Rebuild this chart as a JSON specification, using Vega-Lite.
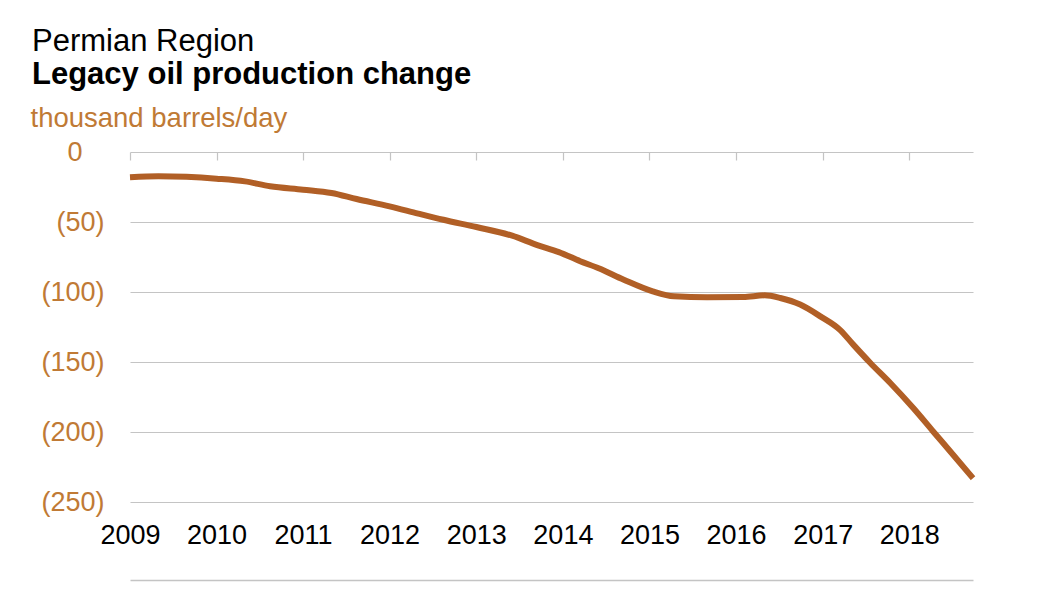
{
  "$schema": "https://vega.github.io/schema/vega-lite/v6.json",
  "autosize": {"type": "none"},
  "padding": {"left": 130, "top": 152, "right": 77, "bottom": 88},
  "width": 843,
  "height": 350,
  "background": "white",
  "config": {
    "view": {"stroke": null},
    "font": "Liberation Sans"
  },
  "title": {
    "text": "Permian Region",
    "subtitle": "Legacy oil production change",
    "anchor": "start",
    "frame": "group",
    "dx": -98,
    "offset": 13,
    "font": "Liberation Sans",
    "fontSize": 31,
    "fontWeight": "normal",
    "color": "#000000",
    "subtitleFont": "Liberation Sans",
    "subtitleFontSize": 31,
    "subtitleFontWeight": "bold",
    "subtitleColor": "#000000",
    "subtitlePadding": 2
  },
  "data": {
    "values": [
      {"date": "2009-01-01", "change": -18.1},
      {"date": "2009-05-01", "change": -17.4},
      {"date": "2010-01-01", "change": -19.1},
      {"date": "2010-05-01", "change": -21.0},
      {"date": "2010-08-15", "change": -24.5},
      {"date": "2011-01-01", "change": -26.9},
      {"date": "2011-05-01", "change": -29.3},
      {"date": "2011-08-15", "change": -33.6},
      {"date": "2012-01-01", "change": -38.8},
      {"date": "2012-05-01", "change": -44.0},
      {"date": "2012-08-15", "change": -48.4},
      {"date": "2013-01-01", "change": -53.6},
      {"date": "2013-06-01", "change": -59.8},
      {"date": "2013-09-15", "change": -66.5},
      {"date": "2013-12-15", "change": -71.5},
      {"date": "2014-03-15", "change": -78.0},
      {"date": "2014-06-01", "change": -83.0},
      {"date": "2014-09-15", "change": -91.2},
      {"date": "2015-01-15", "change": -99.5},
      {"date": "2015-04-15", "change": -103.1},
      {"date": "2015-09-01", "change": -103.8},
      {"date": "2016-02-01", "change": -103.6},
      {"date": "2016-05-01", "change": -102.4},
      {"date": "2016-07-06", "change": -104.3},
      {"date": "2016-09-28", "change": -109.0},
      {"date": "2016-12-22", "change": -117.4},
      {"date": "2017-03-16", "change": -127.2},
      {"date": "2017-05-10", "change": -137.6},
      {"date": "2017-07-21", "change": -150.7},
      {"date": "2017-10-13", "change": -165.0},
      {"date": "2018-01-18", "change": -182.9},
      {"date": "2018-04-12", "change": -199.6},
      {"date": "2018-07-05", "change": -216.2},
      {"date": "2018-09-27", "change": -233.0}
    ]
  },
  "resolve": {"axis": {"x": "independent", "y": "independent"}},
  "layer": [
    {
      "mark": {"type": "line", "color": "#b15f26", "strokeWidth": 6, "interpolate": "monotone", "strokeCap": "butt", "clip": false},
      "encoding": {
        "x": {
          "field": "date",
          "type": "temporal",
          "scale": {"type": "utc", "domain": [{"year": 2009, "month": 1, "date": 1, "utc": true}, {"year": 2018, "month": 9, "date": 27, "utc": true}]},
          "axis": {
            "orient": "bottom",
            "title": null,
            "format": "%Y",
            "formatType": "utc",
            "tickCount": {"interval": "year", "step": 1},
            "domain": false,
            "ticks": false,
            "grid": false,
            "labelFlush": false,
            "labelOverlap": false,
            "labelBound": false,
            "labelPadding": 20,
            "labelFont": "Liberation Sans",
            "labelFontSize": 27,
            "labelColor": "#000000"
          }
        },
        "y": {
          "field": "change",
          "type": "quantitative",
          "scale": {"domain": [-250, 0], "nice": false, "zero": false},
          "axis": {
            "values": [0, -50, -100, -150, -200, -250],
            "labelExpr": "datum.value == 0 ? '0' : '(' + abs(datum.value) + ')'",
            "domain": false,
            "ticks": false,
            "grid": true,
            "gridColor": "#c4c4c4",
            "gridWidth": 1.2,
            "labelPadding": {"condition": {"test": "datum.value == 0", "value": 48}, "value": 26},
            "labelFont": "Liberation Sans",
            "labelFontSize": 27,
            "labelColor": "#c07a35",
            "title": "thousand barrels/day",
            "titleAngle": 0,
            "titleAlign": "left",
            "titleBaseline": "alphabetic",
            "titleX": -100,
            "titleY": -26,
            "titleFont": "Liberation Sans",
            "titleFontSize": 27.5,
            "titleFontWeight": "normal",
            "titleColor": "#c07a35"
          }
        }
      }
    },
    {
      "mark": {"type": "line", "strokeOpacity": 0},
      "encoding": {
        "x": {
          "field": "date",
          "type": "temporal",
          "scale": {"type": "utc", "domain": [{"year": 2009, "month": 1, "date": 1, "utc": true}, {"year": 2018, "month": 9, "date": 27, "utc": true}]},
          "axis": {
            "orient": "top",
            "title": null,
            "tickCount": {"interval": "year", "step": 1},
            "labels": false,
            "domain": false,
            "grid": false,
            "ticks": true,
            "tickSize": 8,
            "tickWidth": 1.2,
            "tickColor": "#c4c4c4",
            "offset": -8
          }
        },
        "y": {
          "field": "change",
          "type": "quantitative",
          "scale": {"domain": [-250, 0], "nice": false, "zero": false},
          "axis": null
        }
      }
    },
    {
      "mark": {"type": "line", "strokeOpacity": 0},
      "encoding": {
        "x": {
          "field": "date",
          "type": "temporal",
          "scale": {"type": "utc", "domain": [{"year": 2009, "month": 1, "date": 1, "utc": true}, {"year": 2018, "month": 9, "date": 27, "utc": true}]},
          "axis": {
            "orient": "bottom",
            "title": null,
            "labels": false,
            "ticks": false,
            "grid": false,
            "domain": true,
            "domainColor": "#c4c4c4",
            "domainWidth": 1.5,
            "offset": 78
          }
        },
        "y": {
          "field": "change",
          "type": "quantitative",
          "scale": {"domain": [-250, 0], "nice": false, "zero": false},
          "axis": null
        }
      }
    }
  ]
}
